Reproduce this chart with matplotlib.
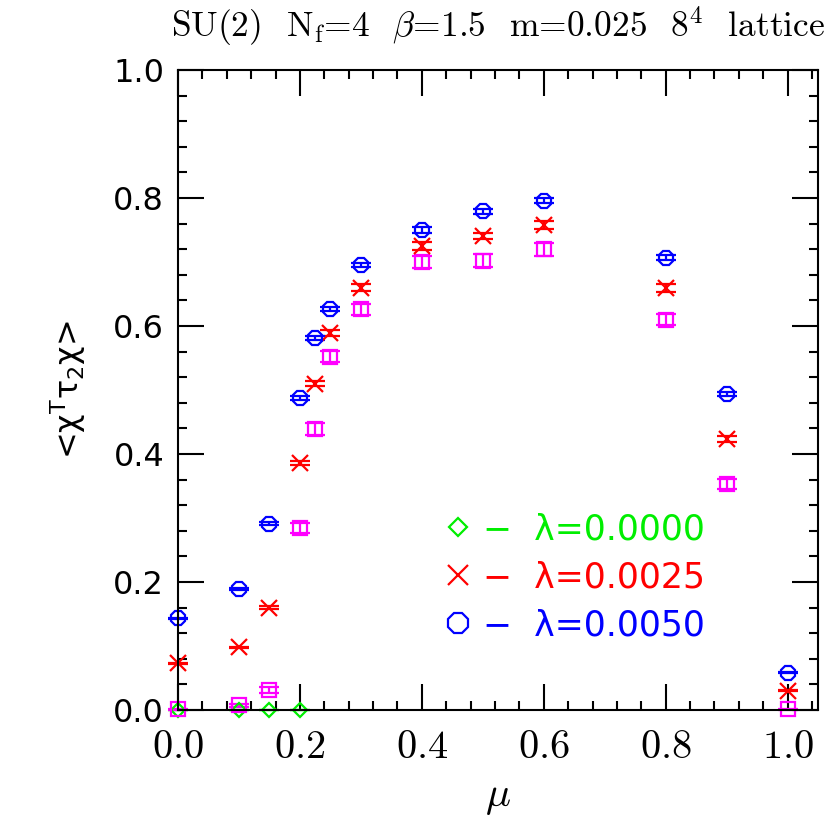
import matplotlib.pyplot as plt
from matplotlib.lines import Line2D
from matplotlib.ticker import MultipleLocator, FuncFormatter

# chemical potential values
mu = [0.0, 0.1, 0.15, 0.2, 0.225, 0.25, 0.3, 0.4, 0.5, 0.6, 0.8, 0.9, 1.0]
mu_green = [0.0, 0.1, 0.15, 0.2]

# <chi^T tau_2 chi> for each lambda
green = [0.0, 0.0, 0.0, 0.0]
green_err = [0.0005, 0.0005, 0.0005, 0.0005]
red = [0.073, 0.098, 0.160, 0.386, 0.510, 0.589, 0.660, 0.725, 0.741, 0.758, 0.659, 0.423, 0.030]
red_err = [0.001, 0.001, 0.002, 0.003, 0.004, 0.005, 0.005, 0.006, 0.005, 0.006, 0.006, 0.005, 0.001]
blue = [0.143, 0.189, 0.291, 0.488, 0.581, 0.626, 0.695, 0.750, 0.779, 0.796, 0.707, 0.494, 0.058]
blue_err = [0.001, 0.001, 0.002, 0.003, 0.003, 0.003, 0.003, 0.004, 0.004, 0.004, 0.004, 0.003, 0.001]
magenta = [0.001, 0.007, 0.031, 0.284, 0.439, 0.552, 0.626, 0.700, 0.702, 0.720, 0.610, 0.353, 0.001]
magenta_err = [0.001, 0.002, 0.005, 0.008, 0.009, 0.009, 0.009, 0.010, 0.010, 0.010, 0.009, 0.008, 0.001]

labels = ['−  λ=0.0000', '−  λ=0.0025', '−  λ=0.0050']

plt.rcParams['mathtext.fontset'] = 'cm'

fig = plt.figure(figsize=(8.3, 8.17), dpi=100)
ax = fig.add_axes([0.2145, 0.131, 0.7711, 0.7833])

common = dict(ls='none', mew=1.6, elinewidth=1.6, capthick=1.6, capsize=7, clip_on=False)
ax.errorbar(mu_green, green, yerr=green_err, fmt='D', ms=7.5, mfc='none', mec='#00ee00',
            ecolor='#00ee00', **common)
ax.errorbar(mu, magenta, yerr=magenta_err, fmt='s', ms=10, mfc='none', mec='magenta',
            ecolor='magenta', **common)
ax.errorbar(mu, red, yerr=red_err, fmt='x', ms=11, mfc='none', mec='red',
            ecolor='red', **common)
ax.errorbar(mu, blue, yerr=blue_err, fmt='8', ms=11, mfc='none', mec='blue',
            ecolor='blue', **common)

ax.set_xlim(0, 1.05)
ax.set_ylim(0, 1.0)
ax.xaxis.set_major_locator(MultipleLocator(0.2))
ax.xaxis.set_minor_locator(MultipleLocator(0.04))
ax.yaxis.set_major_locator(MultipleLocator(0.2))
ax.yaxis.set_minor_locator(MultipleLocator(0.04))
ax.xaxis.set_major_formatter(FuncFormatter(lambda v, p: f'${v:.1f}$'))
ax.yaxis.set_major_formatter(FuncFormatter(lambda v, p: f'{v:.1f}'))
ax.tick_params(which='both', direction='in', top=True, right=True, width=1.5)
ax.tick_params(which='major', length=19)
ax.tick_params(which='minor', length=6.5)
ax.tick_params(axis='x', labelsize=29, pad=12)
ax.tick_params(axis='y', labelsize=23, pad=10)
for s in ax.spines.values():
    s.set_linewidth(1.5)

ax.set_xlabel(r'$\mu$', fontsize=30, labelpad=6)
ax.set_ylabel(r'<$\mathrm{\chi}^{\mathrm{T}}\mathrm{\tau}_2\mathrm{\chi}$>', fontsize=23,
              math_fontfamily='dejavusans', labelpad=18)

fig.text(0.6, 0.968, r'SU(2)  N$_\mathrm{f}$=4  $\beta$=1.5  m=0.025  8$^4$  lattice',
         fontsize=25.5, family='cmr10', ha='center', va='center')

handles = [Line2D([], [], ls='none', marker='D', ms=9, mfc='none', mec='#00ee00', mew=1.6),
           Line2D([], [], ls='none', marker='x', ms=14, mec='red', mew=1.6),
           Line2D([], [], ls='none', marker='8', ms=15, mfc='none', mec='blue', mew=1.6)]
ax.legend(handles, labels, loc='center left', bbox_to_anchor=(0.362, 0.207), frameon=False,
          fontsize=25, labelcolor=['#00ee00', 'red', 'blue'], handlelength=1.0,
          handletextpad=0.2, labelspacing=0.4)

fig.savefig('out.png', dpi=100)
